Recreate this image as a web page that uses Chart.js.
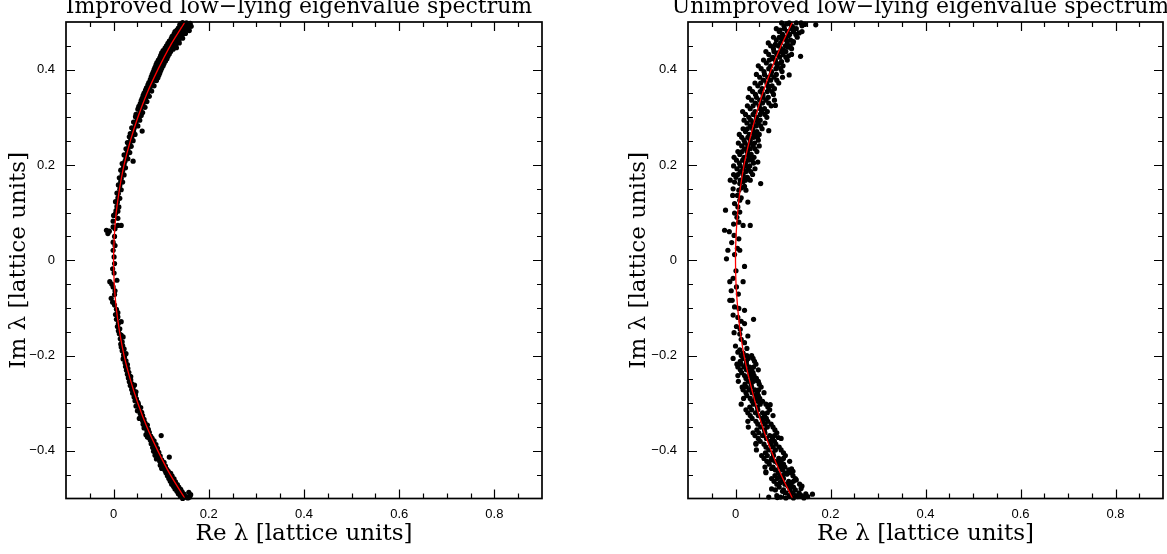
<!DOCTYPE html>
<html>
<head>
<meta charset="utf-8">
<script src="https://cdn.jsdelivr.net/npm/chart.js@4.4.1/dist/chart.umd.min.js"></script>
<style>
  html, body { margin: 0; padding: 0; background: #fff; }
  body { width: 1167px; height: 554px; position: relative; overflow: hidden; }
  .panel { position: absolute; top: 0; height: 554px; }
  #left { left: 0; width: 560px; }
  #right { left: 620px; width: 547px; }
</style>
</head>
<body>
<div class="panel" id="left"><canvas id="improvedChart"></canvas></div>
<div class="panel" id="right"><canvas id="unimprovedChart"></canvas></div>
<script>
'use strict';

//axis ticks, same on both panels
var xTicks = [0, 0.2, 0.4, 0.6, 0.8];
var xTickLabels = ['0', '0.2', '0.4', '0.6', '0.8'];
var yTicks = [-0.4, -0.2, 0, 0.2, 0.4];
var yTickLabels = ['\u22120.4', '\u22120.2', '0', '0.2', '0.4'];

var titles = ['Improved low\u2212lying eigenvalue spectrum',
              'Unimproved low\u2212lying eigenvalue spectrum'];
var xTitle = 'Re \u03bb [lattice units]';
var yTitle = 'Im \u03bb [lattice units]';

//red reference curves [re, im]
var improvedCurve = [[0.150,-0.50],[0.119,-0.45],[0.093,-0.40],[0.070,-0.35],[0.051,-0.30],
  [0.035,-0.25],[0.022,-0.20],[0.0125,-0.15],[0.0055,-0.10],[0.0014,-0.05],[0,0],
  [0.0014,0.05],[0.0055,0.10],[0.0125,0.15],[0.022,0.20],[0.035,0.25],[0.051,0.30],
  [0.070,0.35],[0.093,0.40],[0.119,0.45],[0.150,0.50]];

var unimprovedCurve = [[0.120,-0.50],[0.096,-0.45],[0.075,-0.40],[0.057,-0.35],[0.042,-0.30],
  [0.029,-0.25],[0.018,-0.20],[0.010,-0.15],[0.0046,-0.10],[0.0011,-0.05],[0,0],
  [0.0011,0.05],[0.0046,0.10],[0.010,0.15],[0.018,0.20],[0.029,0.25],[0.042,0.30],
  [0.057,0.35],[0.075,0.40],[0.096,0.45],[0.120,0.50]];

//eigenvalues [re, im]
var improvedPoints = [
  [0.153,0.498],[0.145,0.499],[0.161,0.497],[0.141,0.496],[0.150,0.493],[0.163,0.491],[0.139,0.494],
  [0.147,0.488],[0.136,0.487],[0.156,0.489],[0.144,0.484],[0.133,0.483],[0.151,0.485],[0.159,0.482],
  [0.139,0.479],[0.129,0.480],[0.147,0.478],[0.136,0.474],[0.127,0.475],[0.143,0.473],[0.151,0.476],
  [0.133,0.469],[0.123,0.470],[0.141,0.468],[0.130,0.464],[0.121,0.465],[0.137,0.463],[0.145,0.466],
  [0.126,0.459],[0.117,0.460],[0.134,0.458],[0.124,0.454],[0.114,0.455],[0.131,0.453],[0.138,0.456],
  [0.121,0.449],[0.111,0.450],[0.127,0.448],[0.118,0.444],[0.108,0.445],[0.125,0.443],[0.132,0.446],
  [0.113,0.439],[0.104,0.440],[0.120,0.438],[0.110,0.434],[0.117,0.433],[0.101,0.435],
  [0.108,0.429],[0.099,0.430],[0.114,0.428],[0.105,0.424],[0.112,0.423],[0.097,0.425],
  [0.102,0.419],[0.094,0.420],[0.109,0.418],[0.100,0.414],[0.106,0.413],[0.091,0.415],
  [0.097,0.409],[0.089,0.410],[0.104,0.408],[0.095,0.404],[0.101,0.403],[0.087,0.405],
  [0.093,0.399],[0.085,0.400],[0.099,0.398],[0.091,0.394],[0.097,0.393],[0.083,0.395],
  [0.089,0.389],[0.081,0.390],[0.095,0.388],[0.087,0.384],[0.093,0.383],[0.079,0.385],
  [0.084,0.378],[0.077,0.379],[0.090,0.377],[0.081,0.372],[0.074,0.373],
  [0.079,0.367],[0.085,0.366],[0.072,0.368],[0.076,0.361],[0.069,0.362],
  [0.074,0.356],[0.080,0.355],[0.067,0.357],[0.071,0.350],[0.064,0.351],
  [0.069,0.345],[0.075,0.344],[0.062,0.346],[0.067,0.339],[0.060,0.340],
  [0.064,0.334],[0.070,0.333],[0.058,0.335],[0.062,0.328],[0.056,0.329],
  [0.060,0.322],[0.066,0.321],[0.053,0.323],[0.057,0.316],[0.051,0.317],
  [0.056,0.311],[0.061,0.310],[0.053,0.305],[0.047,0.306],[0.058,0.304],
  [0.052,0.300],[0.046,0.301],[0.050,0.295],[0.055,0.294],[0.047,0.289],[0.042,0.290],
  [0.046,0.283],[0.051,0.282],[0.043,0.277],[0.038,0.278],[0.042,0.271],[0.060,0.271],
  [0.040,0.265],[0.035,0.266],[0.045,0.264],[0.038,0.258],[0.033,0.259],
  [0.036,0.252],[0.041,0.251],[0.034,0.246],[0.029,0.247],[0.032,0.240],[0.037,0.239],
  [0.030,0.233],[0.026,0.234],[0.029,0.227],[0.034,0.226],[0.027,0.220],[0.022,0.221],
  [0.026,0.214],[0.030,0.213],[0.024,0.208],[0.041,0.208],[0.022,0.202],[0.018,0.203],
  [0.021,0.195],[0.025,0.194],[0.019,0.188],[0.015,0.189],[0.018,0.180],[0.022,0.179],
  [0.016,0.172],[0.012,0.173],[0.015,0.165],[0.019,0.164],[0.013,0.157],[0.010,0.158],
  [0.013,0.149],[0.016,0.148],[0.010,0.140],[0.007,0.141],[0.009,0.131],[0.013,0.130],
  [0.008,0.122],[0.004,0.123],[0.007,0.113],[0.011,0.112],[0.005,0.104],[0.009,0.103],
  [0.004,0.098],[0.000,0.094],[0.009,0.088],[-0.001,0.082],[0.016,0.073],[0.009,0.073],
  [-0.001,0.070],[0.003,0.066],[-0.015,0.063],[-0.012,0.056],[-0.009,0.061],[0.002,0.050],
  [-0.001,0.038],[0.003,0.031],[-0.001,0.021],[0.001,0.007],[0.002,-0.007],[-0.002,-0.018],
  [0.001,-0.027],[-0.008,-0.045],[0.007,-0.042],[-0.001,-0.056],[-0.004,-0.050],[0.003,-0.064],
  [-0.005,-0.080],[0.002,-0.072],[0.002,-0.094],[-0.002,-0.088],
  [0.006,-0.103],[0.009,-0.110],[0.004,-0.114],[0.009,-0.119],[0.006,-0.124],[0.016,-0.129],
  [0.010,-0.133],[0.008,-0.139],[0.013,-0.144],[0.010,-0.148],[0.012,-0.154],[0.016,-0.157],
  [0.020,-0.161],[0.014,-0.165],[0.018,-0.171],[0.015,-0.176],[0.019,-0.179],[0.016,-0.182],
  [0.022,-0.186],[0.018,-0.190],[0.026,-0.196],[0.021,-0.199],
  [0.023,-0.203],[0.020,-0.207],[0.026,-0.211],[0.024,-0.215],[0.029,-0.219],[0.025,-0.223],
  [0.030,-0.227],[0.027,-0.231],[0.032,-0.235],[0.029,-0.239],[0.034,-0.243],[0.031,-0.247],
  [0.036,-0.251],[0.033,-0.255],[0.038,-0.259],[0.035,-0.263],[0.041,-0.267],[0.038,-0.271],
  [0.043,-0.275],[0.040,-0.279],[0.046,-0.283],[0.043,-0.287],[0.048,-0.291],[0.045,-0.295],
  [0.051,-0.298],[0.047,-0.276],[0.036,-0.244],[0.044,-0.262],
  [0.052,-0.302],[0.047,-0.306],[0.057,-0.309],[0.054,-0.313],[0.050,-0.316],[0.059,-0.319],
  [0.056,-0.322],[0.061,-0.326],[0.058,-0.329],[0.054,-0.332],[0.064,-0.334],[0.061,-0.337],
  [0.066,-0.341],[0.062,-0.344],[0.071,-0.346],[0.068,-0.349],[0.064,-0.352],[0.073,-0.355],
  [0.070,-0.358],[0.075,-0.361],[0.072,-0.364],[0.068,-0.366],[0.078,-0.369],[0.074,-0.372],
  [0.081,-0.374],[0.077,-0.377],[0.085,-0.379],[0.071,-0.371],[0.100,-0.368],
  [0.084,-0.382],[0.079,-0.385],[0.089,-0.387],[0.086,-0.390],[0.082,-0.393],[0.092,-0.395],
  [0.088,-0.398],[0.084,-0.401],[0.095,-0.403],[0.091,-0.406],[0.087,-0.409],[0.098,-0.411],
  [0.094,-0.414],[0.090,-0.417],[0.101,-0.419],[0.097,-0.422],[0.106,-0.424],[0.102,-0.427],
  [0.098,-0.430],[0.109,-0.432],[0.105,-0.435],[0.101,-0.437],[0.112,-0.439],[0.108,-0.441],
  [0.117,-0.413],
  [0.115,-0.443],[0.110,-0.446],[0.120,-0.447],[0.117,-0.450],[0.113,-0.452],[0.123,-0.453],
  [0.120,-0.456],[0.116,-0.458],[0.127,-0.459],[0.123,-0.462],[0.119,-0.464],[0.130,-0.465],
  [0.127,-0.468],[0.122,-0.470],[0.134,-0.471],[0.130,-0.473],[0.126,-0.475],[0.137,-0.476],
  [0.133,-0.478],[0.129,-0.480],[0.141,-0.481],[0.137,-0.483],[0.133,-0.485],[0.144,-0.486],
  [0.140,-0.488],[0.136,-0.490],[0.148,-0.491],[0.144,-0.493],[0.140,-0.495],[0.152,-0.496],
  [0.148,-0.498],[0.156,-0.499],[0.160,-0.497],[0.145,-0.500],[0.162,-0.492],[0.158,-0.487]
];

var unimprovedPoints = [
  [0.097,0.498],[0.113,0.498],[0.128,0.498],[0.138,0.498],[0.102,0.492],[0.118,0.492],[0.140,0.492],
  [0.086,0.486],[0.103,0.486],[0.117,0.486],[0.128,0.486],[0.092,0.480],[0.109,0.480],[0.122,0.480],
  [0.140,0.480],[0.099,0.474],[0.114,0.474],[0.127,0.474],[0.080,0.468],[0.092,0.468],[0.105,0.468],
  [0.130,0.468],[0.086,0.462],[0.107,0.462],[0.116,0.462],[0.069,0.456],[0.095,0.456],[0.109,0.456],
  [0.121,0.456],[0.074,0.450],[0.090,0.450],[0.105,0.450],[0.115,0.450],[0.080,0.444],[0.096,0.444],
  [0.118,0.444],[0.064,0.438],[0.081,0.438],[0.095,0.438],[0.106,0.438],[0.070,0.432],[0.087,0.432],
  [0.100,0.432],[0.118,0.432],[0.078,0.426],[0.093,0.426],[0.106,0.426],[0.059,0.420],[0.071,0.420],
  [0.084,0.420],[0.109,0.420],[0.065,0.414],[0.086,0.414],[0.095,0.414],[0.048,0.408],[0.074,0.408],
  [0.088,0.408],[0.100,0.408],[0.054,0.402],[0.070,0.402],[0.085,0.402],[0.095,0.402],[0.060,0.396],
  [0.076,0.396],[0.098,0.396],[0.044,0.390],[0.061,0.390],[0.075,0.390],[0.086,0.390],[0.051,0.384],
  [0.068,0.384],[0.081,0.384],[0.099,0.384],[0.059,0.378],[0.074,0.378],[0.087,0.378],[0.041,0.372],
  [0.053,0.372],[0.066,0.372],[0.091,0.372],[0.047,0.366],[0.068,0.366],[0.077,0.366],[0.030,0.360],
  [0.056,0.360],[0.070,0.360],[0.082,0.360],[0.036,0.354],[0.052,0.354],[0.067,0.354],[0.077,0.354],
  [0.042,0.348],[0.058,0.348],[0.080,0.348],[0.027,0.342],[0.044,0.342],[0.058,0.342],[0.069,0.342],
  [0.034,0.336],[0.051,0.336],[0.064,0.336],[0.082,0.336],[0.042,0.330],[0.057,0.330],[0.070,0.330],
  [0.025,0.324],[0.037,0.324],[0.050,0.324],[0.075,0.324],[0.031,0.318],[0.052,0.318],[0.061,0.318],
  [0.015,0.312],[0.041,0.312],[0.055,0.312],[0.067,0.312],[0.021,0.306],[0.037,0.306],[0.052,0.306],
  [0.062,0.306],[0.028,0.300],[0.044,0.300],[0.066,0.300],
  [0.108,0.496],[0.121,0.489],[0.094,0.483],[0.134,0.477],[0.111,0.471],[0.097,0.465],[0.122,0.459],
  [0.084,0.453],[0.110,0.447],[0.101,0.441],[0.089,0.435],[0.112,0.429],[0.077,0.423],[0.097,0.417],
  [0.018,0.294],[0.032,0.294],[0.043,0.294],[0.052,0.294],[0.024,0.288],[0.037,0.288],[0.048,0.288],
  [0.062,0.288],[0.031,0.282],[0.043,0.282],[0.053,0.282],[0.016,0.276],[0.025,0.276],[0.036,0.276],
  [0.056,0.276],[0.021,0.270],[0.038,0.270],[0.045,0.270],[0.008,0.264],[0.029,0.264],[0.040,0.264],
  [0.050,0.264],[0.013,0.258],[0.026,0.258],[0.038,0.258],[0.046,0.258],[0.018,0.252],[0.031,0.252],
  [0.048,0.252],[0.006,0.246],[0.020,0.246],[0.031,0.246],[0.040,0.246],[0.013,0.240],[0.026,0.240],
  [0.037,0.240],[0.050,0.240],[0.019,0.234],[0.031,0.234],[0.041,0.234],[0.005,0.228],[0.014,0.228],
  [0.025,0.228],[0.045,0.228],[0.009,0.222],[0.026,0.222],[0.033,0.222],[-0.003,0.216],[0.018,0.216],
  [0.029,0.216],[0.039,0.216],[0.002,0.210],[0.015,0.210],[0.027,0.210],[0.035,0.210],[0.008,0.204],
  [0.021,0.204],[0.038,0.204],[-0.004,0.198],[0.010,0.198],[0.021,0.198],[0.030,0.198],[0.003,0.192],
  [0.016,0.192],[0.027,0.192],[0.041,0.192],[0.010,0.186],[0.022,0.186],[0.032,0.186],[-0.004,0.180],
  [0.005,0.180],[0.016,0.180],[0.036,0.180],[0.001,0.174],[0.018,0.174],[0.025,0.174],[-0.011,0.168],
  [0.010,0.168],[0.021,0.168],[0.031,0.168],
  [0.169,0.494],[0.146,0.495],[0.137,0.428],[0.113,0.389],[0.084,0.325],[0.070,0.272],[0.047,0.206],
  [0.053,0.161],
  [-0.002,0.164],[0.009,0.161],[0.016,0.165],[0.019,0.155],[-0.005,0.150],[0.007,0.147],[0.022,0.147],
  [0.013,0.152],[-0.006,0.136],[0.004,0.136],[0.012,0.131],[0.009,0.126],[0.026,0.122],[-0.002,0.119],
  [0.005,0.112],[-0.021,0.105],[-0.002,0.099],[0.009,0.101],[0.003,0.090],[0.007,0.080],[0.016,0.073],
  [0.031,0.073],[-0.004,0.076],[-0.023,0.063],[-0.013,0.060],[-0.003,0.052],[0.007,0.045],[-0.008,0.037],
  [-0.016,0.021],[0.004,0.025],[0.009,0.021],[-0.002,0.012],[-0.019,0.003],[0.019,-0.013],[0.001,-0.022],
  [-0.005,-0.038],[-0.012,-0.045],[0.016,-0.045],[0.002,-0.056],[-0.009,-0.064],[0.006,-0.071],
  [-0.012,-0.084],[-0.007,-0.084],[-0.002,-0.098],[0.007,-0.101],[0.019,-0.105],[-0.005,-0.115],
  [0.038,-0.124],[0.005,-0.120],[0.012,-0.128],[0.019,-0.133],[0.002,-0.139],[0.010,-0.145],
  [-0.003,-0.152],[0.009,-0.155],[0.026,-0.159],[0.012,-0.166],[0.019,-0.173],[0.000,-0.180],
  [0.009,-0.188],[0.016,-0.195],[0.005,-0.193],[0.024,-0.185],
  [0.012,-0.200],[0.024,-0.200],[0.034,-0.200],[-0.005,-0.206],[0.016,-0.206],[0.027,-0.206],
  [0.037,-0.206],[0.010,-0.212],[0.023,-0.212],[0.040,-0.212],[0.003,-0.218],[0.012,-0.218],
  [0.023,-0.218],[0.043,-0.218],[0.005,-0.224],[0.018,-0.224],[0.030,-0.224],[0.038,-0.224],
  [0.010,-0.230],[0.023,-0.230],[0.034,-0.230],[0.048,-0.230],[0.013,-0.236],[0.030,-0.236],
  [0.037,-0.236],[0.005,-0.242],[0.019,-0.242],[0.030,-0.242],[0.039,-0.242],[0.022,-0.248],
  [0.034,-0.248],[0.044,-0.248],[0.006,-0.254],[0.027,-0.254],[0.038,-0.254],[0.048,-0.254],
  [0.020,-0.260],[0.033,-0.260],[0.050,-0.260],[0.014,-0.266],[0.023,-0.266],[0.034,-0.266],
  [0.054,-0.266],[0.016,-0.272],[0.029,-0.272],[0.041,-0.272],[0.049,-0.272],[0.022,-0.278],
  [0.035,-0.278],[0.046,-0.278],[0.060,-0.278],[0.024,-0.284],[0.041,-0.284],[0.048,-0.284],
  [0.017,-0.290],[0.031,-0.290],[0.042,-0.290],[0.051,-0.290],[0.035,-0.296],[0.047,-0.296],
  [0.057,-0.296],
  [0.012,-0.302],[0.038,-0.302],[0.052,-0.302],[0.064,-0.302],[0.030,-0.308],[0.046,-0.308],
  [0.068,-0.308],[0.022,-0.314],[0.034,-0.314],[0.047,-0.314],[0.072,-0.314],[0.026,-0.320],
  [0.042,-0.320],[0.057,-0.320],[0.067,-0.320],[0.031,-0.326],[0.048,-0.326],[0.061,-0.326],
  [0.079,-0.326],[0.035,-0.332],[0.056,-0.332],[0.065,-0.332],[0.026,-0.338],[0.043,-0.338],
  [0.057,-0.338],[0.068,-0.338],[0.047,-0.344],[0.062,-0.344],[0.075,-0.344],[0.027,-0.350],
  [0.053,-0.350],[0.067,-0.350],[0.079,-0.350],[0.045,-0.356],[0.061,-0.356],[0.083,-0.356],
  [0.037,-0.362],[0.049,-0.362],[0.062,-0.362],[0.087,-0.362],[0.041,-0.368],[0.057,-0.368],
  [0.072,-0.368],[0.082,-0.368],[0.048,-0.374],[0.065,-0.374],[0.078,-0.374],[0.096,-0.374],
  [0.052,-0.380],[0.073,-0.380],[0.082,-0.380],[0.043,-0.386],[0.060,-0.386],[0.074,-0.386],
  [0.085,-0.386],[0.064,-0.392],[0.079,-0.392],[0.092,-0.392],[0.044,-0.398],[0.070,-0.398],
  [0.084,-0.398],[0.096,-0.398],[0.063,-0.404],[0.079,-0.404],[0.101,-0.404],[0.055,-0.410],
  [0.067,-0.410],[0.080,-0.410],[0.105,-0.410],[0.060,-0.416],[0.076,-0.416],[0.091,-0.416],
  [0.101,-0.416],[0.066,-0.422],[0.083,-0.422],[0.096,-0.422],[0.114,-0.422],[0.071,-0.428],
  [0.092,-0.428],[0.101,-0.428],[0.062,-0.434],[0.079,-0.434],[0.093,-0.434],[0.104,-0.434],
  [0.084,-0.440],[0.099,-0.440],[0.112,-0.440],[0.064,-0.446],[0.090,-0.446],[0.104,-0.446],
  [0.116,-0.446],[0.083,-0.452],[0.099,-0.452],[0.121,-0.452],[0.076,-0.458],[0.088,-0.458],
  [0.101,-0.458],[0.126,-0.458],[0.081,-0.464],[0.097,-0.464],[0.112,-0.464],[0.122,-0.464],
  [0.087,-0.470],[0.104,-0.470],[0.117,-0.470],[0.135,-0.470],[0.092,-0.476],[0.113,-0.476],
  [0.122,-0.476],[0.084,-0.482],[0.101,-0.482],[0.115,-0.482],[0.126,-0.482],[0.106,-0.488],
  [0.121,-0.488],[0.134,-0.488],[0.087,-0.494],[0.113,-0.494],[0.127,-0.494],[0.139,-0.494],
  [0.106,-0.499],[0.122,-0.499],[0.144,-0.499],
  [0.095,-0.497],[0.131,-0.496],[0.117,-0.491],[0.099,-0.485],[0.138,-0.479],[0.110,-0.473],
  [0.094,-0.467],[0.128,-0.461],[0.092,-0.455],[0.108,-0.449],[0.121,-0.443],[0.076,-0.437],
  [0.098,-0.431],[0.088,-0.425],[0.075,-0.419],
  [0.162,-0.491],[0.073,-0.303],[0.043,-0.384],[0.090,-0.372],[0.118,-0.438],[0.140,-0.474],
  [0.152,-0.496],[0.064,-0.444],[0.076,-0.480],[0.088,-0.498],[0.070,-0.497],[0.148,-0.490]
];

function toXY(pairs) {
   return pairs.map(function (p) { return {x: p[0], y: p[1]}; });
}

//box round the plot with inward ticks on all four sides
var framePlugin = {
   id: 'frame',
   afterDraw: function (chart) {
      var ctx = chart.ctx, a = chart.chartArea;
      var xs = chart.scales.x, ys = chart.scales.y;
      ctx.save();
      ctx.strokeStyle = '#000';
      ctx.lineWidth = 1.2;
      ctx.beginPath();
      var i, v, p, len;
      for (i = -1; i <= 17; i++) {
         v = i / 20;
         len = (i % 4 === 0) ? 9 : 5;
         p = Math.round(xs.getPixelForValue(v)) + 0.5;
         ctx.moveTo(p, a.bottom); ctx.lineTo(p, a.bottom - len);
         ctx.moveTo(p, a.top); ctx.lineTo(p, a.top + len);
      }
      for (i = -9; i <= 9; i++) {
         v = i / 20;
         len = (i % 4 === 0) ? 9 : 5;
         p = Math.round(ys.getPixelForValue(v)) + 0.5;
         ctx.moveTo(a.left, p); ctx.lineTo(a.left + len, p);
         ctx.moveTo(a.right, p); ctx.lineTo(a.right - len, p);
      }
      ctx.stroke();
      ctx.lineWidth = 1.7;
      ctx.strokeRect(a.left, a.top, a.right - a.left, a.bottom - a.top);
      ctx.restore();
   }
};

//panel title sits at the very top, partly cut off like the original
var titlePlugin = {
   id: 'panelTitle',
   afterDraw: function (chart, args, opts) {
      var ctx = chart.ctx, a = chart.chartArea;
      ctx.save();
      ctx.font = '22px "DejaVu Serif"';
      ctx.fillStyle = '#000';
      ctx.textAlign = 'center';
      ctx.textBaseline = 'alphabetic';
      ctx.fillText(opts.text, (a.left + a.right) / 2 - 5, 13);
      ctx.restore();
   }
};

function makeChart(id, title, points, curve, yWidth) {
   var ctx = document.getElementById(id).getContext('2d');
   return new Chart(ctx, {
      type: 'scatter',
      data: {
         datasets: [{
            type: 'line',
            data: toXY(curve),
            borderColor: '#ff0000',
            borderWidth: 1.3,
            pointRadius: 0,
            tension: 0.3,
            fill: false,
            order: 0
         }, {
            type: 'scatter',
            data: toXY(points),
            pointRadius: 2.6,
            pointBorderWidth: 0,
            pointBackgroundColor: '#000',
            clip: 3,
            order: 1
         }]
      },
      options: {
         responsive: true,
         maintainAspectRatio: false,
         animation: false,
         events: [],
         layout: { padding: { top: 22, right: (id === 'improvedChart') ? 18 : 4, left: 0, bottom: 0 } },
         plugins: {
            legend: { display: false },
            tooltip: { enabled: false },
            panelTitle: { text: title }
         },
         scales: {
            x: {
               type: 'linear',
               min: -0.1,
               max: 0.9,
               grid: { display: false, drawTicks: false },
               border: { display: false },
               afterBuildTicks: function (scale) {
                  scale.ticks = xTicks.map(function (t) { return {value: t}; });
               },
               afterFit: function (scale) { scale.height = 55.5; },
               ticks: {
                  padding: 8,
                  color: '#000',
                  font: { family: 'Liberation Sans', size: 13 },
                  maxRotation: 0,
                  callback: function (value) {
                     var k = xTicks.findIndex(function (t) { return Math.abs(t - value) < 1e-9; });
                     return k < 0 ? '' : xTickLabels[k];
                  }
               },
               title: {
                  display: true,
                  text: xTitle,
                  color: '#000',
                  font: { family: 'DejaVu Serif', size: 23 },
                  padding: { top: 0, bottom: 6 }
               }
            },
            y: {
               type: 'linear',
               min: -0.5,
               max: 0.5,
               grid: { display: false, drawTicks: false },
               border: { display: false },
               afterBuildTicks: function (scale) {
                  scale.ticks = yTicks.map(function (t) { return {value: t}; });
               },
               afterFit: function (scale) { scale.width = yWidth; },
               ticks: {
                  padding: 11,
                  color: '#000',
                  font: { family: 'Liberation Sans', size: 13 },
                  callback: function (value) {
                     var k = yTicks.findIndex(function (t) { return Math.abs(t - value) < 1e-9; });
                     return k < 0 ? '' : yTickLabels[k];
                  }
               },
               title: {
                  display: true,
                  text: yTitle,
                  color: '#000',
                  font: { family: 'DejaVu Serif', size: 23 },
                  padding: { top: 5, bottom: 0 }
               }
            }
         }
      },
      plugins: [framePlugin, titlePlugin]
   });
}

makeChart('improvedChart', titles[0], improvedPoints, improvedCurve, 66);
makeChart('unimprovedChart', titles[1], unimprovedPoints, unimprovedCurve, 68);
</script>
</body>
</html>
